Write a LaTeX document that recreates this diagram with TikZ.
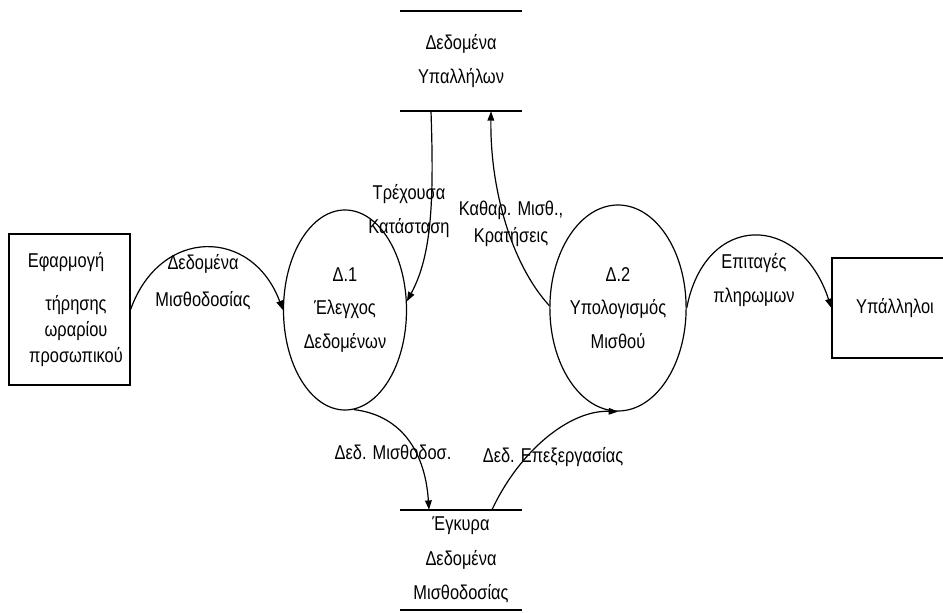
\documentclass[tikz,border=0pt]{standalone}
\usepackage{fontspec}
\setmainfont{Liberation Sans}[FakeStretch=0.82]
\usetikzlibrary{shapes.geometric,arrows.meta}
\begin{document}
\begin{tikzpicture}[x=0.75pt,y=-0.75pt,
  txt/.style={font=\fontsize{15}{25}\selectfont, align=center, inner sep=0pt},
  lbl/.style={font=\fontsize{15}{26}\selectfont, align=center, inner sep=0pt},
  proc/.style={draw, ellipse, line width=0.9pt, inner sep=0pt, align=center,
    font=\fontsize{15}{25}\selectfont},
  entity/.style={draw, line width=0.9pt, inner sep=0pt},
  store/.style={inner sep=0pt, align=center, minimum width=91.5pt, minimum height=75pt},
  flow/.style={line width=0.9pt, -{Triangle[length=7pt,width=5pt]}},
  storeline/.style={line width=1.6pt}]
\useasboundingbox (0,0) rectangle (943,613);
\clip (0,0) rectangle (943,613);

% external entities
\node[entity, minimum width=90.75pt, minimum height=113.25pt] (app) at (69.5,309.5) {};
\node[txt] (appa) at (66,262) {Εφαρμογή};
\node[txt, font=\fontsize{15}{19.5}\selectfont] (appb) at (76,331) {τήρησης\\ωραρίου\\προσωπικού};
\node[entity, minimum width=94.5pt, minimum height=75pt, font=\fontsize{15}{25}\selectfont] (emp) at (895,308) {Υπάλληλοι};

% processes
\node[proc, minimum width=92.25pt, minimum height=150pt] (p1) at (345,310) {Δ.1\\Έλεγχος\\Δεδομένων};
\node[proc, minimum width=91.5pt, minimum height=154.5pt] (p2) at (618,308) {Δ.2\\Υπολογισμός\\Μισθού};

% data stores
\node[store, font=\fontsize{15}{25}\selectfont] (ds1) at (461,61) {Δεδομένα\\Υπαλλήλων};
\draw[storeline] (ds1.north west) -- (ds1.north east);
\draw[storeline] (ds1.south west) -- (ds1.south east);
\node[store, font=\fontsize{15}{26}\selectfont] (ds2) at (461,560) {Έγκυρα\\Δεδομένα\\Μισθοδοσίας};
\draw[storeline] (ds2.north west) -- (ds2.north east);
\draw[storeline] (ds2.south west) -- (ds2.south east);

% data flows
\draw[flow] (app.east) .. controls (160,227) and (252,227) .. (p1.west);
\node[lbl, font=\fontsize{15}{28}\selectfont] (l1) at (203,282) {Δεδομένα\\Μισθοδοσίας};

\draw[flow] ([xshift=-22.5pt]ds1.south) .. controls (434,200) and (432,255) .. (p1.8);
\node[lbl] (l2) at (409,211) {Τρέχουσα\\Κατάσταση};

\draw[flow] (p2.178) .. controls (512,265) and (490,190) .. ([xshift=22.5pt]ds1.south);
\node[lbl, font=\fontsize{15}{20}\selectfont] (l3) at (511,224) {Καθαρ. Μισθ.,\\Κρατήσεις};

\draw[flow] (p2.east) .. controls (705,212) and (800,212) .. (emp.west);
\node[lbl] (l4) at (754,280) {Επιταγές\\πληρωμων};

\draw[flow] (p1.-85) .. controls (400,415) and (425,450) .. ([xshift=-24pt]ds2.north);
\node[lbl] (l5) at (393,452) {Δεδ. Μισθοδοσ.};

\draw[flow] ([xshift=23.25pt]ds2.north) .. controls (520,450) and (570,410) .. (p2.south);
\node[lbl] (l6) at (553,457) {Δεδ. Επεξεργασίας};
\end{tikzpicture}
\end{document}
